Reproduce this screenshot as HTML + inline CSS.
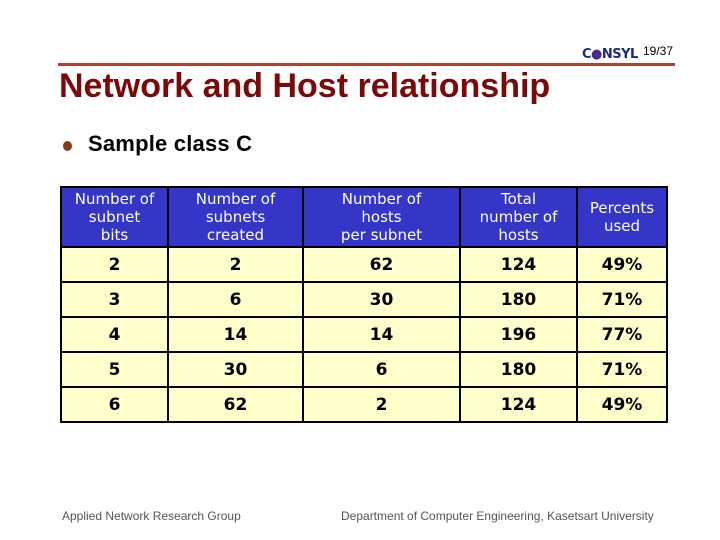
<!DOCTYPE html>
<html><head><meta charset="utf-8"><style>
body{margin:0;width:720px;height:540px;background:#fff;position:relative;overflow:hidden;font-family:"Liberation Sans",sans-serif}
.abs{position:absolute}
table{position:absolute;left:60px;top:186px;width:606px;table-layout:fixed;border-collapse:collapse;font-family:"DejaVu Sans",sans-serif}
td{border:2px solid #000;text-align:center;padding:0}
tr.h td{background:#3535c8;color:#fff;font-size:15px;line-height:18px;height:58px}
tr.r td{background:#ffffcc;color:#000;font-size:17px;font-weight:bold;height:33px}
</style></head><body>
<div class="abs" style="left:582px;top:47px;font-size:13px;font-weight:bold;color:#1a2a80;font-family:'DejaVu Sans',sans-serif;letter-spacing:-0.5px">C<span style="color:#4a2a90">●</span>NSYL</div>
<div class="abs" style="left:643px;top:44px;font-size:12px">19/37</div>
<div class="abs" style="left:58px;top:63px;width:617px;height:3px;background:#b0402a"></div>
<div class="abs" style="left:59px;top:67px;font-size:34px;font-weight:bold;color:#7a0a0a">Network and Host relationship</div>
<div class="abs" style="left:63px;top:141px;width:9px;height:10px;border-radius:50%;background:#8a3a1a"></div>
<div class="abs" style="left:88px;top:131px;font-size:22px;font-weight:bold;letter-spacing:0.2px">Sample class C</div>
<table>
<colgroup><col style="width:107px"><col style="width:135px"><col style="width:157px"><col style="width:117px"><col style="width:90px"></colgroup>
<tr class="h">
<td>Number of<br>subnet<br>bits</td>
<td>Number of<br>subnets<br>created</td>
<td>Number of<br>hosts<br>per subnet</td>
<td>Total<br>number of<br>hosts</td>
<td>Percents<br>used</td></tr>
<tr class="r"><td>2</td><td>2</td><td>62</td><td>124</td><td>49%</td></tr>
<tr class="r"><td>3</td><td>6</td><td>30</td><td>180</td><td>71%</td></tr>
<tr class="r"><td>4</td><td>14</td><td>14</td><td>196</td><td>77%</td></tr>
<tr class="r"><td>5</td><td>30</td><td>6</td><td>180</td><td>71%</td></tr>
<tr class="r"><td>6</td><td>62</td><td>2</td><td>124</td><td>49%</td></tr>
</table>
<div class="abs" style="left:62px;top:509px;font-size:12px;color:#555">Applied Network Research Group</div>
<div class="abs" style="left:341px;top:509px;font-size:12px;color:#555">Department of Computer Engineering, Kasetsart University</div>
</body></html>
